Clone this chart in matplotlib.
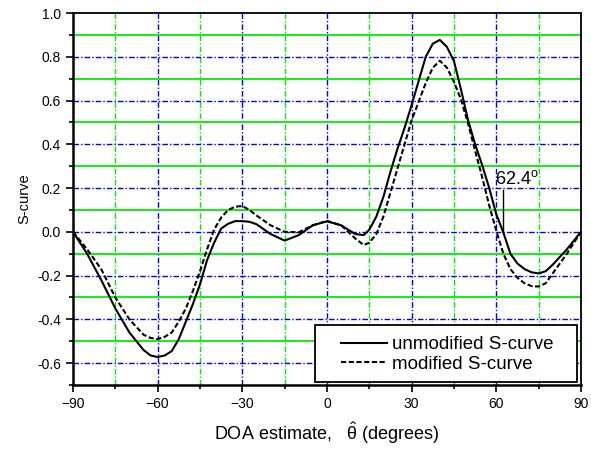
import matplotlib
matplotlib.use("Agg")
import matplotlib.pyplot as plt
from matplotlib.ticker import MultipleLocator, FormatStrFormatter
from matplotlib.patches import Rectangle

plt.rcParams['font.family'] = ['Liberation Sans', 'DejaVu Sans']
plt.rcParams['mathtext.fontset'] = 'custom'
plt.rcParams['mathtext.rm'] = 'Liberation Sans'
plt.rcParams['mathtext.it'] = 'Liberation Sans'

# DOA angles (degrees)
theta = [-90, -85, -80, -75, -70, -65, -62.5, -60, -57.5, -55, -52.5, -50,
         -47.5, -45, -42.5, -40, -37.5, -35, -32.5, -30, -27.5, -25, -20, -15,
         -10, -5, 0, 5, 10, 13, 15, 17.5, 20, 22.5, 25, 27.5, 30, 32.5, 35,
         37.5, 40, 42.5, 45, 47.5, 50, 52.5, 55, 57.5, 60, 62.5, 65, 67.5, 70,
         72.5, 75, 77.5, 80, 85, 90]

# unmodified S-curve
s_unmod = [0.0, -0.10, -0.22, -0.35, -0.46, -0.54, -0.565, -0.572, -0.565, -0.545,
           -0.49, -0.41, -0.33, -0.24, -0.13, -0.05, 0.015, 0.037, 0.049, 0.049,
           0.046, 0.035, -0.01, -0.04, -0.015, 0.03, 0.048, 0.03, -0.01, -0.015,
           0.01, 0.07, 0.16, 0.275, 0.38, 0.475, 0.58, 0.69, 0.80, 0.86, 0.877,
           0.845, 0.78, 0.65, 0.51, 0.40, 0.305, 0.20, 0.08, -0.003, -0.10,
           -0.145, -0.17, -0.185, -0.19, -0.18, -0.15, -0.08, 0.0]

# modified S-curve
s_mod = [0.0, -0.08, -0.17, -0.30, -0.40, -0.47, -0.485, -0.49, -0.48, -0.46,
         -0.41, -0.35, -0.27, -0.18, -0.08, 0.01, 0.065, 0.10, 0.115, 0.118,
         0.10, 0.075, 0.03, 0.0, -0.002, 0.03, 0.05, 0.03, -0.03, -0.06,
         -0.05, -0.01, 0.07, 0.18, 0.29, 0.40, 0.51, 0.595, 0.68, 0.75, 0.782,
         0.75, 0.685, 0.605, 0.495, 0.37, 0.25, 0.12, 0.005, -0.10, -0.17,
         -0.21, -0.235, -0.248, -0.25, -0.235, -0.19, -0.10, 0.0]

zero_angle = 62.4

fig = plt.figure(figsize=(5.91, 4.5), dpi=100)
ax = fig.add_axes([0.1235, 0.1444, 0.8595, 0.8267])

# grid
dashdot = (0, (4, 1.5, 1, 1.5))
for v in [-75, -45, -15, 15, 45, 75]:
    ax.axvline(v, color='#00ee00', lw=1.0, ls=dashdot, zorder=1)
for v in [-60, -30, 0, 30, 60]:
    ax.axvline(v, color='#0000ee', lw=1.0, ls=dashdot, zorder=1)
for v in [-0.5, -0.3, -0.1, 0.1, 0.3, 0.5, 0.7, 0.9]:
    ax.axhline(v, color='#00ee00', lw=1.3, zorder=1)
for v in [-0.6, -0.4, -0.2, 0.0, 0.2, 0.4, 0.6, 0.8]:
    ax.axhline(v, color='#0000ee', lw=1.0, ls=dashdot, zorder=1)

ax.plot(theta, s_unmod, color='black', lw=1.5, label='unmodified S-curve', zorder=3)
ax.plot(theta, s_mod, color='black', lw=1.5, ls=(0, (2.5, 1.2)),
        label='modified S-curve', zorder=3)

# zero crossing marker
ax.plot([zero_angle, zero_angle], [0.0, 0.19], color='black', lw=1.0, zorder=3)
ax.text(59.4, 0.2, r'62.4$^{\mathrm{o}}$', fontsize=13, ha='left', va='bottom')

ax.set_xlim(-90, 90)
ax.set_ylim(-0.7, 1.0)
ax.xaxis.set_major_locator(MultipleLocator(30))
ax.xaxis.set_minor_locator(MultipleLocator(15))
ax.yaxis.set_major_locator(MultipleLocator(0.2))
ax.yaxis.set_minor_locator(MultipleLocator(0.1))
ax.yaxis.set_major_formatter(FormatStrFormatter('%.1f'))
ax.tick_params(which='major', direction='out', length=5, width=1.2, labelsize=10)
ax.tick_params(which='minor', direction='out', length=3, width=1.2)
ax.tick_params(top=False, right=False, which='both')
for side in ['left', 'bottom']:
    ax.spines[side].set_linewidth(1.8)
for side in ['top', 'right']:
    ax.spines[side].set_linewidth(1.3)

ax.set_ylabel('S-curve', fontsize=10.5, labelpad=4)
ax.set_xlabel(r'DOA estimate,   $\hat{\theta}$ (degrees)', fontsize=13, labelpad=7)

# legend box
ax.add_patch(Rectangle((0.476, 0.008), 0.516, 0.153, transform=ax.transAxes,
                       facecolor='white', edgecolor='black', lw=1.3, zorder=4))
ax.legend(loc='center', bbox_to_anchor=(0.737, 0.082), fontsize=13.5,
          frameon=False, handlelength=2.45, borderpad=0.2, labelspacing=0.15,
          handletextpad=0.3).set_zorder(5)

fig.savefig('out.png', dpi=100)
